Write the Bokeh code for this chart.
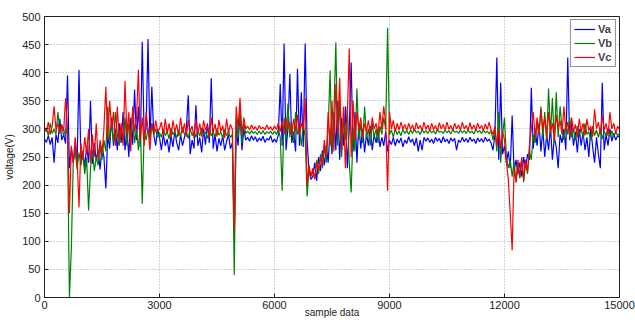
from bokeh.plotting import figure
from bokeh.models import Range1d, Legend, LegendItem, FixedTicker
from bokeh.embed import file_html
from bokeh.resources import INLINE

# sample index (every 50 samples)
samples = list(range(0, 15001, 50))

va = [282,276,288,272,285,240,290,275,318,280,290,274,395,230,265,240,270,235,405,245,
      260,232,270,240,350,238,275,245,262,228,270,250,194,290,265,320,270,300,262,310,
      275,330,262,300,250,320,272,370,280,340,268,455,285,300,460,280,375,290,270,300,
      285,262,290,270,282,258,288,268,296,275,262,290,270,285,300,360,255,280,265,342,
      270,285,258,300,272,310,275,390,265,290,260,283,270,288,262,278,290,265,275,110,
      300,270,330,262,300,280,285,278,288,280,286,277,284,279,287,276,283,280,288,276,
      282,276,290,380,270,452,262,300,398,275,295,260,407,270,365,268,452,280,225,210,
      215,240,208,250,225,262,235,270,240,300,255,330,262,350,245,320,270,340,230,300,
      418,260,330,240,310,265,300,258,292,270,305,262,290,275,300,268,285,270,295,260,
      280,272,285,270,282,275,284,268,280,274,286,276,282,270,284,260,280,262,285,278,
      284,276,282,274,285,278,283,275,286,277,282,274,284,278,283,262,280,276,285,277,
      283,276,285,278,282,274,284,277,283,276,285,278,282,275,262,290,427,245,382,255,
      270,240,260,230,324,225,245,220,240,215,250,230,255,245,373,265,300,270,310,260,
      300,250,290,262,305,245,285,268,230,290,275,300,262,427,280,310,270,295,258,300,
      270,295,262,285,250,300,268,240,285,255,230,382,262,290,270,300,278,292,280,288,
      285]

vb = [295,302,288,310,292,300,290,330,295,305,288,300,290,0,87,240,265,228,258,235,
      255,220,248,155,230,262,225,250,235,270,245,280,260,340,280,310,275,330,290,270,
      300,280,320,270,310,285,330,275,300,262,310,167,295,280,300,285,310,290,300,285,
      293,285,300,288,296,282,302,290,295,284,298,287,303,290,294,283,300,288,296,285,
      298,287,302,289,295,283,299,288,296,285,301,289,294,284,299,288,296,285,290,40,
      320,285,340,275,310,292,296,291,297,292,295,290,296,291,297,290,295,292,296,290,
      296,290,300,285,190,320,280,345,285,310,275,330,290,300,270,310,285,180,230,215,
      225,212,245,220,255,230,270,240,300,404,260,330,454,270,350,250,320,280,340,240,
      187,300,260,372,280,310,275,340,285,300,270,310,285,300,275,305,290,320,300,480,
      290,298,285,300,290,296,288,300,292,297,290,298,292,300,293,296,290,299,293,297,
      292,298,293,297,291,299,294,296,292,298,293,297,291,299,294,296,292,298,293,297,
      292,298,293,296,291,299,294,297,292,298,293,296,291,297,280,300,260,330,240,290,
      320,250,230,245,215,240,205,235,212,245,205,240,220,260,245,290,275,310,290,340,
      285,330,280,372,290,355,275,365,285,340,300,280,310,290,320,285,300,280,305,290,
      300,285,310,290,295,280,305,288,298,285,300,282,296,288,302,286,297,285,295,288,
      292]

vc = [302,295,312,290,305,340,298,310,292,308,296,355,300,150,270,240,285,250,160,275,
      245,285,255,300,240,290,250,310,245,280,255,300,375,280,350,300,330,270,340,280,
      310,270,385,290,330,260,340,295,320,405,280,320,270,330,300,262,310,290,315,295,
      300,312,288,318,292,310,285,315,295,308,287,320,293,310,286,316,296,305,284,318,
      292,310,286,315,298,307,285,320,294,309,286,316,295,306,284,318,293,308,300,120,
      340,300,355,290,320,300,305,298,307,299,304,297,306,300,303,298,307,299,304,297,
      305,299,310,295,315,290,320,300,312,288,318,296,325,290,310,300,355,200,235,215,
      230,210,240,225,250,235,280,250,330,270,350,260,380,290,391,260,340,230,320,443,
      250,350,280,330,300,320,285,310,295,315,290,320,300,310,290,330,300,340,310,190,
      330,300,315,295,310,298,312,300,308,297,310,299,307,296,311,300,306,297,312,299,
      307,297,310,299,306,296,311,300,308,298,312,299,306,297,310,300,307,298,312,300,
      306,297,311,299,307,298,310,300,306,297,309,299,312,298,290,305,270,300,265,295,
      280,240,210,150,84,230,205,245,215,250,210,245,225,270,300,330,285,320,290,335,
      300,320,285,330,295,310,280,325,300,315,290,340,295,312,288,320,296,308,285,318,
      295,310,288,318,297,305,286,335,300,312,290,325,298,310,287,330,300,310,292,305,
      298]

series_names = ["Va", "Vb", "Vc"]
series_colors = ["#0000ff", "#008000", "#ff0000"]
x_ticks = [0, 3000, 6000, 9000, 12000, 15000]
y_ticks = [0, 50, 100, 150, 200, 250, 300, 350, 400, 450, 500]
x_label = "sample data"
y_label = "voltage(V)"

FONT = "Liberation Sans"

p = figure(width=635, height=320,
           x_range=Range1d(0, 15000), y_range=Range1d(0, 500),
           output_backend="svg", toolbar_location=None,
           min_border_left=44, min_border_right=16,
           min_border_top=16, min_border_bottom=23)
p.background_fill_color = "white"
p.border_fill_color = "white"
p.outline_line_color = "#222222"
p.outline_line_width = 1

renderers = []
for ys, c in zip([va, vb, vc], series_colors):
    r = p.line(samples, ys, line_color=c, line_width=1.2)
    renderers.append(r)

p.xaxis.ticker = FixedTicker(ticks=x_ticks)
p.yaxis.ticker = FixedTicker(ticks=y_ticks)
p.xgrid.ticker = FixedTicker(ticks=x_ticks)
p.ygrid.ticker = FixedTicker(ticks=y_ticks)
for ax in [p.xaxis[0], p.yaxis[0]]:
    ax.major_tick_in = 4
    ax.major_tick_out = 0
    ax.minor_tick_line_color = None
    ax.axis_line_color = "#222222"
    ax.major_tick_line_color = "#222222"
    ax.major_label_text_font = FONT
    ax.major_label_text_font_size = "11px"
    ax.major_label_text_color = "#222222"
    ax.axis_label_text_font = FONT
    ax.axis_label_text_font_size = "10px"
    ax.axis_label_text_font_style = "normal"
    ax.axis_label_text_color = "#222222"
p.xaxis.major_label_standoff = 3
p.yaxis.major_label_standoff = 4
p.xaxis.axis_label = x_label
p.yaxis.axis_label = y_label
p.xaxis.axis_label_standoff = -5
p.yaxis.axis_label_standoff = 4

p.grid.grid_line_color = "#a8a8a8"
p.grid.grid_line_dash = "1 2"
p.grid.grid_line_width = 1

legend = Legend(items=[LegendItem(label=n, renderers=[r]) for n, r in zip(series_names, renderers)],
                location="top_right")
legend.border_line_color = "#222222"
legend.border_line_width = 1
legend.background_fill_color = "white"
legend.background_fill_alpha = 1
legend.padding = 3
legend.spacing = 2
legend.margin = 3
legend.glyph_width = 21
legend.glyph_height = 12
legend.label_height = 12
legend.label_width = 12
legend.label_standoff = 3
legend.label_text_font = FONT
legend.label_text_font_size = "11px"
legend.label_text_font_style = "bold"
p.add_layout(legend)

open("out.html", "w").write(file_html(p, INLINE))
